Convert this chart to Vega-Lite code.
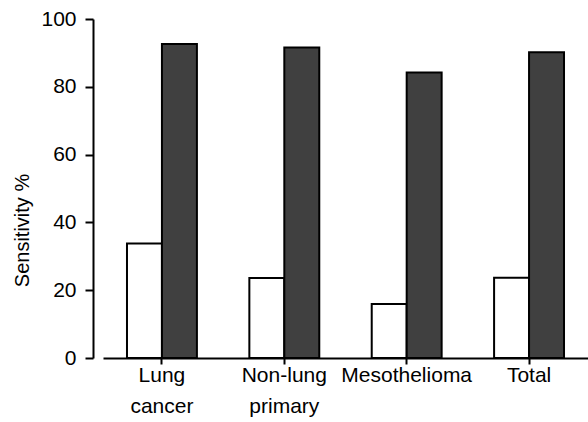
{
  "$schema": "https://vega.github.io/schema/vega-lite/v6.json",
  "autosize": {"type": "none"},
  "padding": {"left": 103, "top": 19, "right": 0, "bottom": 64},
  "width": 485,
  "height": 339,
  "background": "white",
  "config": {
    "view": {"stroke": null},
    "font": "Liberation Sans"
  },
  "data": {
    "values": [
      {"group": "Lung cancer", "method": "Method A", "sensitivity": 33.8},
      {"group": "Lung cancer", "method": "Method B", "sensitivity": 92.6},
      {"group": "Non-lung primary", "method": "Method A", "sensitivity": 23.6},
      {"group": "Non-lung primary", "method": "Method B", "sensitivity": 91.6},
      {"group": "Mesothelioma", "method": "Method A", "sensitivity": 15.9},
      {"group": "Mesothelioma", "method": "Method B", "sensitivity": 84.2},
      {"group": "Total", "method": "Method A", "sensitivity": 23.7},
      {"group": "Total", "method": "Method B", "sensitivity": 90.2}
    ]
  },
  "mark": {"type": "bar", "stroke": "black", "strokeWidth": 2},
  "encoding": {
    "x": {
      "field": "group",
      "type": "nominal",
      "sort": null,
      "scale": {"paddingInner": 0.4286, "paddingOuter": 0.196},
      "axis": {
        "title": null,
        "labelAngle": 0,
        "labelFontSize": 21,
        "labelColor": "black",
        "labelBaseline": "top",
        "labelPadding": 0,
        "labelLineHeight": 31,
        "labelExpr": "datum.value == 'Lung cancer' ? ['Lung','cancer'] : datum.value == 'Non-lung primary' ? ['Non-lung','primary'] : datum.value",
        "tickSize": 6,
        "tickWidth": 2,
        "tickColor": "black",
        "domainColor": "black",
        "domainWidth": 2,
        "grid": false
      }
    },
    "xOffset": {"field": "method", "type": "nominal"},
    "y": {
      "field": "sensitivity",
      "type": "quantitative",
      "scale": {"domain": [0, 100], "nice": false},
      "axis": {
        "title": "Sensitivity %",
        "titleFontSize": 20,
        "titleFontWeight": "normal",
        "titleColor": "black",
        "titleAngle": -90,
        "titleBaseline": "middle",
        "titleAlign": "center",
        "titleX": -71,
        "titleY": 211,
        "values": [0, 20, 40, 60, 80, 100],
        "offset": 10,
        "labelFontSize": 21,
        "labelColor": "black",
        "labelPadding": 9,
        "tickSize": 8,
        "tickWidth": 2,
        "tickColor": "black",
        "domainColor": "black",
        "domainWidth": 2,
        "grid": false
      }
    },
    "fill": {
      "field": "method",
      "type": "nominal",
      "scale": {"domain": ["Method A", "Method B"], "range": ["white", "#404040"]},
      "legend": null
    }
  }
}
